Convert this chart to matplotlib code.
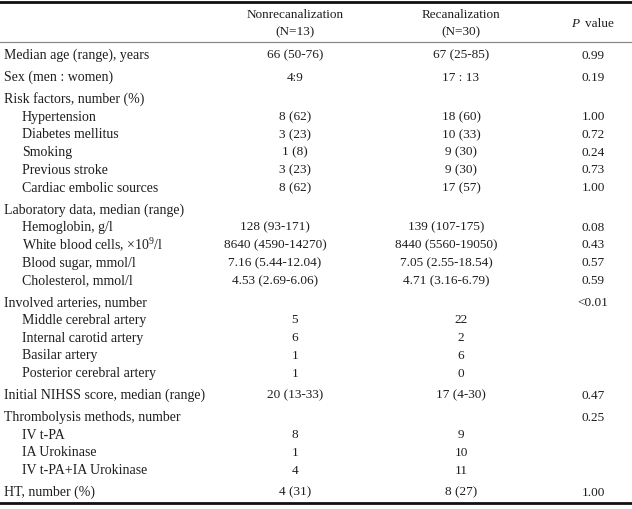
import matplotlib
matplotlib.use('Agg')
import matplotlib.pyplot as plt

plt.rcParams['font.family'] = ['Liberation Serif', 'DejaVu Serif']
plt.rcParams['mathtext.fontset'] = 'custom'
plt.rcParams['mathtext.rm'] = 'Liberation Serif'
plt.rcParams['mathtext.it'] = 'Liberation Serif:italic'

# table content
col_headers = ['Nonrecanalization', 'Recanalization']
col_counts = ['(N=13)', '(N=30)']

row_labels = [
    'Median age (range), years',
    'Sex (men : women)',
    'Risk factors, number (%)',
    'Hypertension',
    'Diabetes mellitus',
    'Smoking',
    'Previous stroke',
    'Cardiac embolic sources',
    'Laboratory data, median (range)',
    'Hemoglobin, g/l',
    'White blood cells, \u00d710$^{9}$/l',
    'Blood sugar, mmol/l',
    'Cholesterol, mmol/l',
    'Involved arteries, number',
    'Middle cerebral artery',
    'Internal carotid artery',
    'Basilar artery',
    'Posterior cerebral artery',
    'Initial NIHSS score, median (range)',
    'Thrombolysis methods, number',
    'IV t-PA',
    'IA Urokinase',
    'IV t-PA+IA Urokinase',
    'HT, number (%)',
]
sub_row = [False, False, False, True, True, True, True, True,
           False, True, True, True, True,
           False, True, True, True, True,
           False, False, True, True, True, False]

nonrecan = ['66 (50-76)', '4:9', '', '8 (62)', '3 (23)', '1 (8)', '3 (23)', '8 (62)',
            '', '128 (93-171)', '8640 (4590-14270)', '7.16 (5.44-12.04)', '4.53 (2.69-6.06)',
            '', '5', '6', '1', '1',
            '20 (13-33)', '', '8', '1', '4', '4 (31)']
recan = ['67 (25-85)', '17 : 13', '', '18 (60)', '10 (33)', '9 (30)', '9 (30)', '17 (57)',
         '', '139 (107-175)', '8440 (5560-19050)', '7.05 (2.55-18.54)', '4.71 (3.16-6.79)',
         '', '22', '2', '6', '0',
         '17 (4-30)', '', '9', '10', '11', '8 (27)']
p_values = ['0.99', '0.19', '', '1.00', '0.72', '0.24', '0.73', '1.00',
            '', '0.08', '0.43', '0.57', '0.59',
            '<0.01', '', '', '', '',
            '0.47', '0.25', '', '', '', '1.00']

W, H = 632, 509
fig = plt.figure(figsize=(W / 100, H / 100), dpi=100)
ax = fig.add_axes([0, 0, 1, 1])
ax.set_xlim(0, W)
ax.set_ylim(H, 0)
ax.axis('off')

txt = '#1e1e1e'
fs = 9.5
fs_lab = 10
x_label, x_sub = 4, 22
x_c1, x_c2, x_p = 295, 461, 593
# lab value rows sit a bit further left in the original layout
lab_rows = range(9, 13)
lab_shift = (-20, -15)

# header
ax.axhline(2.2, color='#111111', lw=2.0)
for x, h, n in zip([x_c1, x_c2], col_headers, col_counts):
    ax.text(x, 15, h, ha='center', va='center', fontsize=fs, color=txt)
    ax.text(x, 32, n, ha='center', va='center', fontsize=fs, color=txt)
ax.text(579, 24, 'P', ha='right', va='center', fontsize=fs, color=txt, style='italic')
ax.text(585, 24, 'value', ha='left', va='center', fontsize=fs, color=txt)
ax.axhline(42, color='#8a8a8a', lw=0.9)

# body rows
y = 55.5
s_gap, l_gap = 17.7, 22.0
for i, lab in enumerate(row_labels):
    if i > 0:
        y += s_gap if sub_row[i] else l_gap
    d1, d2 = lab_shift if i in lab_rows else (0, 0)
    ax.text(x_sub if sub_row[i] else x_label, y, lab, ha='left', va='center',
            fontsize=fs_lab, color=txt)
    ax.text(x_c1 + d1, y, nonrecan[i], ha='center', va='center', fontsize=fs, color=txt)
    ax.text(x_c2 + d2, y, recan[i], ha='center', va='center', fontsize=fs, color=txt)
    ax.text(x_p, y, p_values[i], ha='center', va='center', fontsize=fs, color=txt)

ax.axhline(503, color='#111111', lw=2.0)

fig.savefig('out.png', dpi=100)
